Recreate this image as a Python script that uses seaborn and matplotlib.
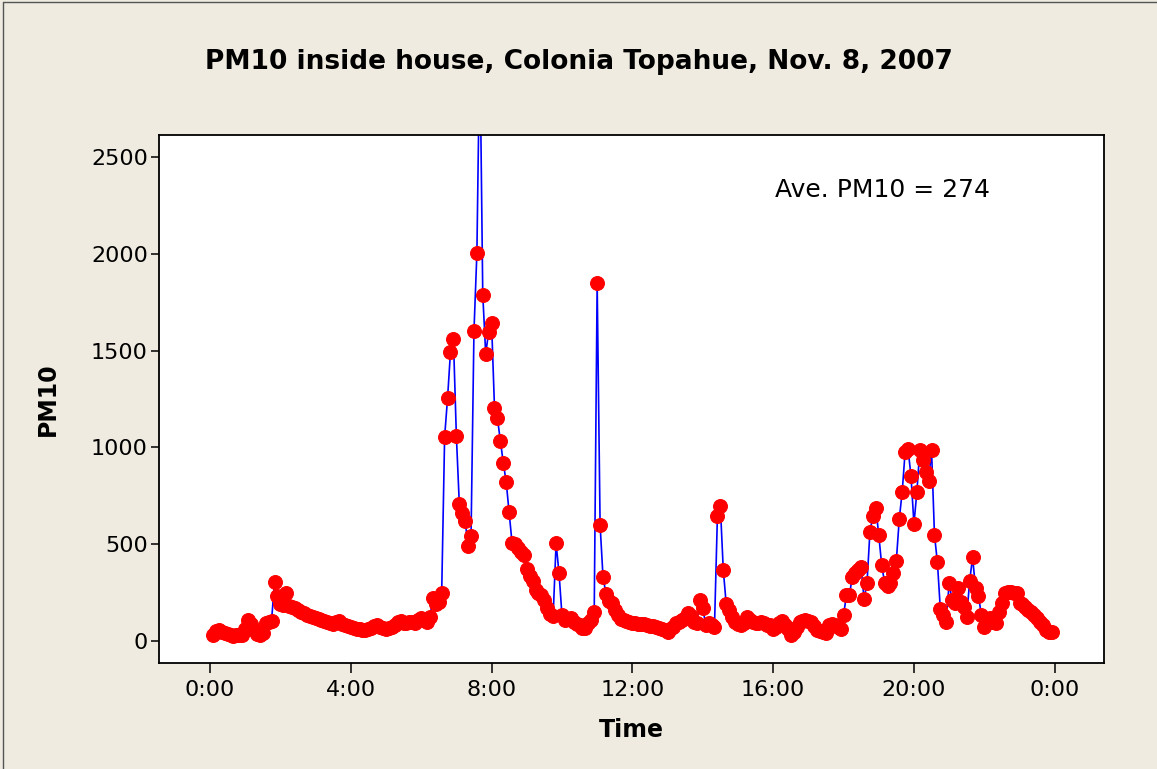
import matplotlib
matplotlib.use("Agg")
import matplotlib.pyplot as plt
from matplotlib.lines import Line2D
import pandas as pd
import seaborn as sns

# PM10 readings (5-minute values), one list per hour, 0:05 .. 23:55
h00 = [30, 50, 55, 45, 40, 35, 30, 28, 30, 30, 32]
h01 = [60, 110, 90, 55, 35, 30, 40, 95, 100, 105, 305, 230]
h02 = [190, 185, 250, 180, 175, 170, 160, 150, 145, 135, 130, 125]
h03 = [120, 115, 110, 105, 100, 95, 90, 100, 105, 90, 80, 75]
h04 = [70, 65, 62, 60, 58, 55, 60, 65, 75, 80, 70, 65]
h05 = [60, 65, 70, 85, 100, 105, 95, 95, 98, 100, 95, 110]
h06 = [120, 110, 100, 125, 220, 190, 200, 250, 1055, 1255, 1495, 1560]
h07 = [1060, 710, 660, 620, 490, 540, 1600, 2005, 3100, 1790, 1485, 1595]
h08 = [1645, 1205, 1150, 1035, 920, 820, 665, 505, 500, 480, 460, 445]
h09 = [370, 335, 310, 265, 250, 235, 210, 170, 140, 130, 505, 350]
h10 = [135, 110, 115, 118, 100, 90, 80, 68, 65, 95, 110, 150]
h11 = [1850, 600, 330, 245, 205, 195, 160, 135, 115, 108, 105, 100]
h12 = [95, 92, 90, 90, 88, 82, 78, 75, 72, 68, 62, 58]
h13 = [48, 60, 74, 91, 100, 108, 117, 143, 130, 100, 93, 212]
h14 = [169, 85, 93, 80, 74, 647, 697, 367, 191, 160, 126, 100]
h15 = [90, 83, 91, 126, 110, 100, 95, 93, 100, 95, 85, 80]
h16 = [64, 70, 95, 105, 80, 60, 30, 45, 70, 100, 105, 108]
h17 = [105, 100, 75, 55, 50, 48, 42, 85, 88, 80, 72, 64]
h18 = [134, 238, 238, 332, 350, 367, 380, 215, 300, 565, 646, 689]
h19 = [548, 393, 301, 284, 301, 350, 415, 630, 771, 978, 990, 852]
h20 = [604, 771, 987, 935, 871, 826, 987, 548, 406, 164, 134, 100]
h21 = [298, 212, 195, 272, 203, 177, 126, 311, 432, 272, 232, 134]
h22 = [74, 95, 117, 100, 91, 151, 195, 246, 255, 255, 250, 246]
h23 = [195, 190, 175, 160, 150, 134, 117, 100, 83, 57, 48, 45]

pm10 = (h00 + h01 + h02 + h03 + h04 + h05 + h06 + h07 + h08 + h09 + h10 + h11
        + h12 + h13 + h14 + h15 + h16 + h17 + h18 + h19 + h20 + h21 + h22 + h23)
times = pd.date_range("2007-11-08 00:05", periods=len(pm10), freq="5min")

tick_times = pd.date_range("2007-11-08 00:00", "2007-11-09 00:00", freq="4h")
tick_labels = ["0:00", "4:00", "8:00", "12:00", "16:00", "20:00", "0:00"]
y_ticks = [0, 500, 1000, 1500, 2000, 2500]

df = pd.DataFrame({"Time": times, "PM10": pm10})

sns.set_style("white")
plt.rcParams["font.family"] = ["DejaVu Sans"]
plt.rcParams["text.color"] = "black"
plt.rcParams["axes.labelcolor"] = "black"
plt.rcParams["xtick.color"] = "black"
plt.rcParams["ytick.color"] = "black"

bg = "#EFEBE0"
fig = plt.figure(figsize=(11.57, 7.69), dpi=100, facecolor=bg)
ax = fig.add_axes([0.1374, 0.1378, 0.8168, 0.6866])
ax.set_facecolor("white")

sns.lineplot(data=df, x="Time", y="PM10", ax=ax, estimator=None, sort=False,
             color="blue", linewidth=1.2, marker="o", markersize=10,
             markerfacecolor="red", markeredgecolor="red")

day0 = pd.Timestamp("2007-11-08 00:00")
ax.set_xlim(day0 - pd.Timedelta(hours=1.449), day0 + pd.Timedelta(hours=25.4))
ax.set_ylim(-114, 2614)
ax.set_xticks(tick_times)
ax.set_xticklabels(tick_labels)
ax.set_yticks(y_ticks)

for s in ax.spines.values():
    s.set_visible(True)
    s.set_color("black")
    s.set_linewidth(1.3)
ax.tick_params(axis="x", direction="out", length=7, width=1.1, pad=5,
               labelsize=16, colors="black", bottom=True)
ax.tick_params(axis="y", direction="out", length=5.5, width=1.1, pad=2.5,
               labelsize=16, colors="black", left=True)

ax.set_xlabel("Time", fontsize=17, fontweight="bold", color="black")
ax.set_ylabel("PM10", fontsize=17, fontweight="bold", color="black")
ax.xaxis.set_label_coords(0.5, -0.104)
ax.yaxis.set_label_coords(-0.105, 0.5)

fig.text(0.5, 0.919, "PM10 inside house, Colonia Topahue, Nov. 8, 2007",
         ha="center", va="center", fontsize=19, fontweight="bold", color="black")
ax.text(0.652, 0.896, "Ave. PM10 = 274", transform=ax.transAxes,
        ha="left", va="center", fontsize=18, color="black")

# thin frame line at the top and left of the picture
fig.add_artist(Line2D([0.003, 0.003], [0, 0.998], transform=fig.transFigure,
                      color="#555555", linewidth=1))
fig.add_artist(Line2D([0.003, 1], [0.998, 0.998], transform=fig.transFigure,
                      color="#555555", linewidth=1))

fig.savefig("out.png", dpi=100, facecolor=bg)
